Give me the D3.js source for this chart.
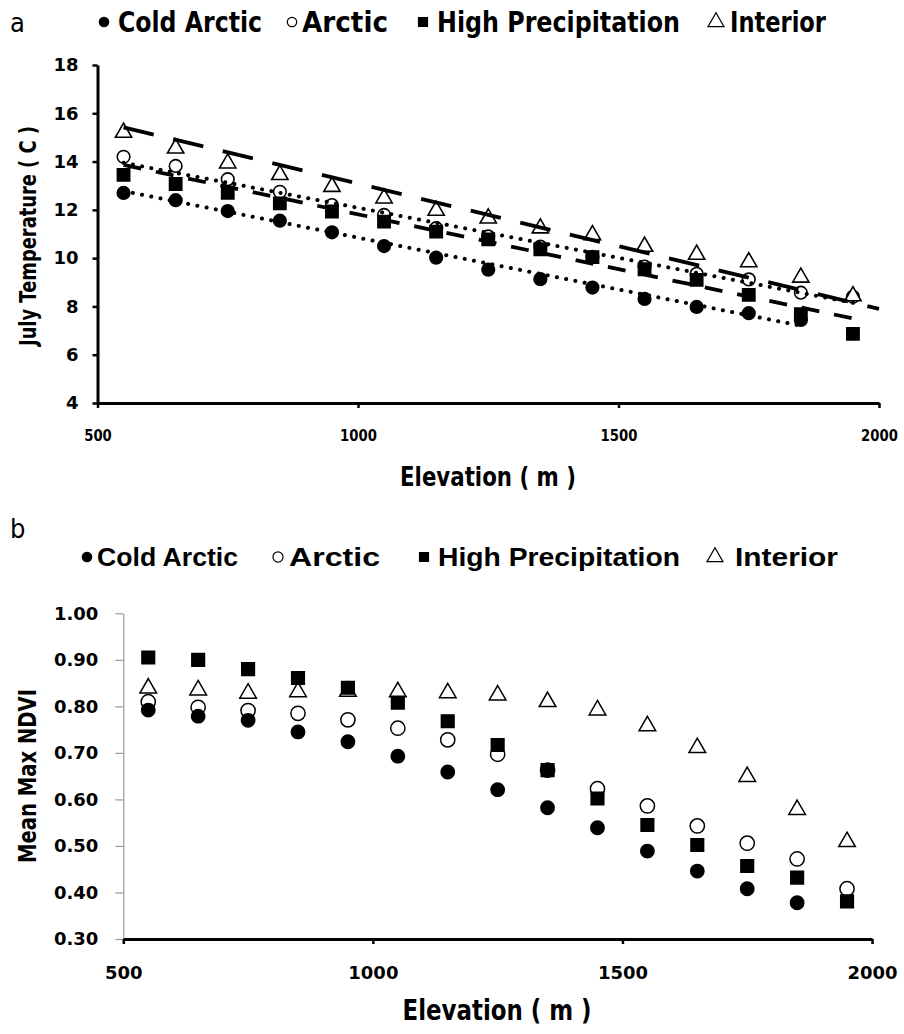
<!DOCTYPE html>
<html><head><meta charset="utf-8">
<script src="https://cdn.jsdelivr.net/npm/d3@7"></script>
<style>body{margin:0;background:#fff;} svg{display:block;}</style>
</head><body>
<svg id="chart" width="904" height="1034"></svg>
<script>
// ---------------- DATA ----------------
const seriesNames = ["Cold Arctic", "Arctic", "High Precipitation", "Interior"];
const elevation = [550, 650, 750, 850, 950, 1050, 1150, 1250, 1350, 1450, 1550, 1650, 1750, 1850, 1950];

// panel a: July temperature (C)
const tempColdArctic  = [12.70, 12.40, 11.95, 11.55, 11.07, 10.50, 10.02, 9.52, 9.13, 8.78, 8.31, 7.98, 7.72, 7.44, null];
const tempArctic      = [14.20, 13.82, 13.27, 12.75, 12.20, 11.79, 11.24, 10.90, 10.48, 10.05, 9.65, 9.35, 9.12, 8.57, 8.40];
const tempHighPrecip  = [13.45, 13.07, 12.71, 12.27, 11.93, 11.51, 11.10, 10.78, 10.37, 10.04, 9.54, 9.10, 8.48, 7.68, 6.86];
const tempInterior    = [15.20, 14.55, 13.93, 13.45, 12.96, 12.48, 11.97, 11.65, 11.24, 10.96, 10.48, 10.15, 9.84, 9.20, 8.43];

// panel a: trend lines (elevation from/to, temperature from/to)
const trendElevStart = [550, 550, 550, 550];
const trendElevEnd   = [1850, 1950, 1950, 2000];
const trendTempStart = [12.78, 13.95, 13.86, 15.42];
const trendTempEnd   = [7.20, 8.15, 7.50, 7.90];

// panel b: mean max NDVI
const ndviColdArctic = [0.792, 0.779, 0.770, 0.745, 0.724, 0.693, 0.659, 0.621, 0.582, 0.539, 0.489, 0.446, 0.408, 0.378, null];
const ndviArctic     = [0.810, 0.798, 0.791, 0.785, 0.771, 0.753, 0.728, 0.697, 0.663, 0.623, 0.586, 0.543, 0.506, 0.472, 0.408];
const ndviHighPrecip = [0.905, 0.900, 0.880, 0.861, 0.840, 0.808, 0.768, 0.717, 0.663, 0.602, 0.545, 0.502, 0.457, 0.432, 0.381];
const ndviInterior   = [0.839, 0.835, 0.828, 0.831, 0.832, 0.831, 0.829, 0.824, 0.810, 0.792, 0.758, 0.711, 0.649, 0.578, 0.509];

// ticks
const elevTicks = [500, 1000, 1500, 2000];
const tempTicks = [4, 6, 8, 10, 12, 14, 16, 18];
const ndviTicks = [0.30, 0.40, 0.50, 0.60, 0.70, 0.80, 0.90, 1.00];

// ---------------- STYLE ----------------
const symTypes = [d3.symbolCircle, d3.symbolCircle, d3.symbolSquare, d3.symbolTriangle];
const symFill = ["#000", "#fff", "#000", "#fff"];
const symSizeA = [125, 125, 150, 115];
const symSizeB = [140, 160, 160, 120];
const trendDash = ["0.1,9.3", "0.1,9.3", "18,15", "31,20"];
const trendCap = ["round", "round", "butt", "butt"];
const drawOrder = [1, 0, 3, 2];

const condensed = "'Liberation Sans Narrow','DejaVu Sans Condensed','Roboto Condensed',Roboto,sans-serif";
const wide = "'DejaVu Sans',Verdana,sans-serif";
const svg = d3.select("#chart");

function label(x, y, txt, opts) {
  const t = svg.append("text").attr("x", x).attr("y", y).text(txt)
    .attr("font-family", opts.font || condensed)
    .attr("font-size", opts.size || 20)
    .attr("font-weight", opts.weight || "bold")
    .attr("text-anchor", opts.anchor || "start")
    .attr("fill", "#000");
  if (opts.len) t.attr("textLength", opts.len).attr("lengthAdjust", "spacingAndGlyphs");
  if (opts.rotate) t.attr("transform", `rotate(-90,${x},${y})`);
  return t;
}

function legend(y, markerX, textX, textLen, size, symSize, font) {
  seriesNames.forEach((name, i) => {
    svg.append("path")
      .attr("d", d3.symbol().type(symTypes[i]).size(symSize[i])())
      .attr("transform", `translate(${markerX[i]},${y})`)
      .attr("fill", symFill[i]).attr("stroke", "#000").attr("stroke-width", 1.2);
    label(textX[i], y + size * 0.36, name, {size: size, len: textLen[i], font: font});
  });
}

// ================= PANEL A =================
const xA = d3.scaleLinear().domain([500, 2000]).range([97.5, 879]);
const yA = d3.scaleLinear().domain([4, 18]).range([403, 65]);
const tempSeries = [tempColdArctic, tempArctic, tempHighPrecip, tempInterior];

label(10, 32, "a", {size: 27, weight: "normal", font: "'Liberation Sans Narrow','DejaVu Sans Condensed',sans-serif"});
legend(22, [104, 292, 423, 716], [118, 302, 437, 730], [144, 86, 243, 96], 28, [70, 70, 80, 110], condensed);

const gA = svg.append("g");
const axAx = gA.append("g").attr("transform", `translate(0,${yA(4)})`)
  .call(d3.axisBottom(xA).tickValues(elevTicks).tickSize(5).tickSizeOuter(0).tickPadding(22).tickFormat(d3.format("d")));
axAx.select(".domain").attr("stroke", "#000").attr("stroke-width", 3);
axAx.selectAll(".tick line").attr("stroke", "#000").attr("stroke-width", 2.5);
axAx.selectAll(".tick text").attr("font-family", condensed).attr("font-weight", "bold").attr("font-size", 16).attr("fill", "#000")
  .attr("textLength", d => String(d).length * 9.2).attr("lengthAdjust", "spacingAndGlyphs");

const ayAx = gA.append("g").attr("transform", `translate(${xA(500)},0)`)
  .call(d3.axisLeft(yA).tickValues(tempTicks).tickSize(5).tickSizeOuter(0).tickPadding(14));
ayAx.select(".domain").attr("stroke", "#000").attr("stroke-width", 3);
ayAx.selectAll(".tick line").attr("stroke", "#000").attr("stroke-width", 2.5);
ayAx.selectAll(".tick text").attr("font-family", wide).attr("font-weight", "bold").attr("font-size", 18).attr("fill", "#000");

label(488, 486, "Elevation ( m )", {size: 27, anchor: "middle", len: 176});
label(36, 236, "July Temperature ( C )", {size: 23, anchor: "middle", font: wide, rotate: true, len: 220});

drawOrder.forEach(i => {
  elevation.forEach((e, j) => {
    const v = tempSeries[i][j];
    if (v == null) return;
    gA.append("path")
      .attr("d", d3.symbol().type(symTypes[i]).size(symSizeA[i])())
      .attr("transform", `translate(${xA(e)},${yA(v)})`)
      .attr("fill", symFill[i]).attr("stroke", "#000").attr("stroke-width", 1.6);
  });
});

const line = d3.line();
seriesNames.forEach((n, i) => {
  gA.append("path")
    .attr("d", line([[xA(trendElevStart[i]), yA(trendTempStart[i])], [xA(trendElevEnd[i]), yA(trendTempEnd[i])]]))
    .attr("fill", "none").attr("stroke", "#000").attr("stroke-width", i < 2 ? 4 : 3.8)
    .attr("stroke-dasharray", trendDash[i]).attr("stroke-linecap", trendCap[i]);
});

// ================= PANEL B =================
const xB = d3.scaleLinear().domain([500, 2000]).range([123.3, 872]);
const yB = d3.scaleLinear().domain([0.3, 1.0]).range([939, 613.3]);
const ndviSeries = [ndviColdArctic, ndviArctic, ndviHighPrecip, ndviInterior];

label(10, 538, "b", {size: 27, weight: "normal", font: "'Liberation Sans Narrow','DejaVu Sans Condensed',sans-serif"});
legend(557, [87, 278, 424, 715], [97, 289, 438, 735], [141, 91, 242, 103], 26, [70, 80, 80, 110], "'Liberation Sans','Open Sans',sans-serif");

const gB = svg.append("g");
const bxAx = gB.append("g").attr("transform", `translate(0,${yB(0.3)})`)
  .call(d3.axisBottom(xB).tickValues(elevTicks).tickSize(5).tickSizeOuter(0).tickPadding(22).tickFormat(d3.format("d")));
bxAx.select(".domain").attr("stroke", "#000").attr("stroke-width", 3);
bxAx.selectAll(".tick line").attr("stroke", "#000").attr("stroke-width", 2.5);
bxAx.selectAll(".tick text").attr("font-family", wide).attr("font-weight", "bold").attr("font-size", 18).attr("fill", "#000");

const byAx = gB.append("g").attr("transform", `translate(${xB(500)},0)`)
  .call(d3.axisLeft(yB).tickValues(ndviTicks).tickSize(8).tickSizeOuter(0).tickPadding(17).tickFormat(d3.format(".2f")));
byAx.select(".domain").attr("stroke", "#999").attr("stroke-width", 1.2);
byAx.selectAll(".tick line").attr("stroke", "#999").attr("stroke-width", 1.2);
byAx.selectAll(".tick text").attr("font-family", wide).attr("font-weight", "bold").attr("font-size", 18).attr("fill", "#000");
bxAx.raise();

label(497, 1020, "Elevation ( m )", {size: 28, anchor: "middle", len: 189});
label(36, 776, "Mean Max NDVI", {size: 25, anchor: "middle", font: wide, rotate: true, len: 174});

drawOrder.forEach(i => {
  elevation.forEach((e, j) => {
    const v = ndviSeries[i][j];
    if (v == null) return;
    gB.append("path")
      .attr("d", d3.symbol().type(symTypes[i]).size(symSizeB[i])())
      .attr("transform", `translate(${xB(e)},${yB(v)})`)
      .attr("fill", symFill[i]).attr("stroke", "#000").attr("stroke-width", 1.5);
  });
});
</script>
</body></html>
